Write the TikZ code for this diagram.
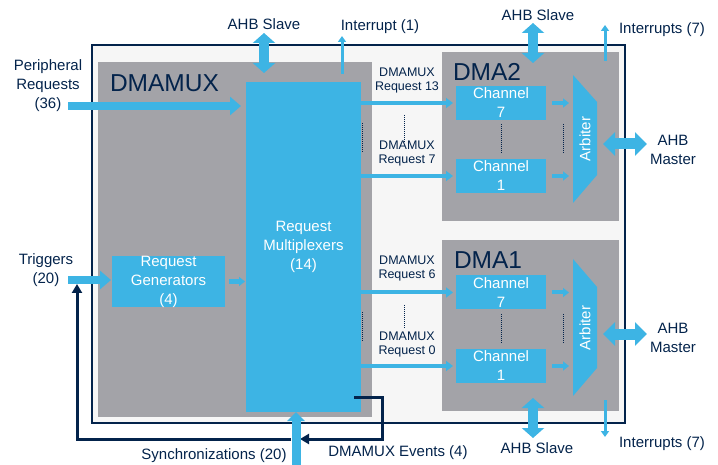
\documentclass[tikz,border=0pt]{standalone}
\usepackage{fontspec}
\setmainfont{Liberation Sans}
\usetikzlibrary{arrows.meta}
\definecolor{stblue}{RGB}{61,180,228}
\definecolor{stgray}{RGB}{163,163,168}
\definecolor{stnavy}{RGB}{3,35,75}
\definecolor{stlight}{RGB}{246,246,246}
\begin{document}
\begin{tikzpicture}[x=1pt,y=-1pt,
  every node/.style={inner sep=0pt, outer sep=0pt},
  lbl/.style={font=\fontsize{15}{19}\selectfont, text=stnavy, align=center},
  wlbl/.style={font=\fontsize{15}{19}\selectfont, text=white, align=center},
  reqlbl/.style={font=\fontsize{12.5}{14}\selectfont, text=stnavy, align=center},
  title/.style={font=\fontsize{24.5}{28}\selectfont, text=stnavy, anchor=west},
  graybox/.style={fill=stgray},
  chanbox/.style={fill=stblue, minimum width=90pt, minimum height=34pt, wlbl},
  bigarrow/.style={draw=stblue, line width=8pt, -{Triangle[length=11pt,width=18pt]}},
  syncarrow/.style={draw=stblue, line width=9pt, -{Triangle[length=9pt,width=17pt]}},
  dblarrow/.style={draw=stblue, line width=10pt, {Triangle[length=10pt,width=22pt]}-{Triangle[length=10pt,width=22pt]}},
  hdblarrow/.style={draw=stblue, line width=11pt, {Triangle[length=12pt,width=23pt]}-{Triangle[length=12pt,width=23pt]}},
  thinarrow/.style={draw=stblue, line width=3pt, -{Triangle[length=6pt,width=8pt]}},
  medarrow/.style={draw=stblue, line width=4pt, -{Triangle[length=7pt,width=10pt]}},
  smallarrow/.style={draw=stblue, line width=4pt, -{Triangle[length=6pt,width=9pt]}},
  navyarrow/.style={draw=stnavy, line width=3pt, -{Triangle[length=9pt,width=10pt]}},
  navydot/.style={draw=stnavy, line width=0.9pt, dash pattern=on 1pt off 1pt},
]
\useasboundingbox (0,0) rectangle (718,465);

% frames
\node[draw=stnavy, line width=1.3pt, fill=stlight, minimum width=533pt, minimum height=378pt] (frame) at (358.5,234) {};
\node[graybox, minimum width=274pt, minimum height=355pt] (muxbox) at (235,239.5) {};
\node[graybox, minimum width=177pt, minimum height=169pt] (dma2) at (530.5,136.5) {};
\node[graybox, minimum width=177pt, minimum height=171pt] (dma1) at (530.5,325.5) {};

% titles
\node[title] (tmux) at (110,83) {DMAMUX};
\node[title] (tdma2) at (453,72) {DMA2};
\node[title] (tdma1) at (454,260) {DMA1};

% blue blocks
\node[fill=stblue, minimum width=115pt, minimum height=330pt, wlbl] (mux) at (303.5,247) {Request\\Multiplexers\\(14)};
\node[fill=stblue, minimum width=113pt, minimum height=51pt, wlbl] (rg) at (168.5,281.5) {Request\\Generators\\(4)};
\node[chanbox] (c27) at (501,103) {Channel\\7};
\node[chanbox] (c21) at (501,176) {Channel\\1};
\node[chanbox] (c17) at (501,292.5) {Channel\\7};
\node[chanbox] (c11) at (501,366) {Channel\\1};

% arbiters
\fill[stblue] (573,75) -- (597,102) -- (597,175) -- (573,203) -- cycle;
\node[wlbl, rotate=90] (arb2) at (585,139) {Arbiter};
\fill[stblue] (573,259) -- (597,287) -- (597,368) -- (573,396) -- cycle;
\node[wlbl, rotate=90] (arb1) at (585,328) {Arbiter};

% request labels
\node[reqlbl] (r13) at (407,80) {DMAMUX\\Request 13};
\node[reqlbl] (r7) at (407,153.5) {DMAMUX\\Request 7};
\node[reqlbl] (r6) at (407,268.5) {DMAMUX\\Request 6};
\node[reqlbl] (r0) at (407,344) {DMAMUX\\Request 0};

% outside labels
\node[lbl] (ahbs1) at (264,24) {AHB Slave};
\node[lbl] (int1) at (380,27) {Interrupt (1)};
\node[lbl] (ahbs2) at (538,15) {AHB Slave};
\node[lbl] (int2) at (662,30) {Interrupts (7)};
\node[lbl] (prq) at (48,86) {Peripheral\\Requests\\(36)};
\node[lbl] (trg) at (46,270) {Triggers\\(20)};
\node[lbl] (am2) at (673,150) {AHB\\Master};
\node[lbl] (am1) at (673,338) {AHB\\Master};
\node[lbl] (ahbs3) at (537,448) {AHB Slave};
\node[lbl] (int3) at (662,444) {Interrupts (7)};
\node[lbl] (syn) at (214,456) {Synchronizations (20)};
\node[lbl] (evt) at (398,453) {DMAMUX Events (4)};

% connector end points
\coordinate (prs) at (68,106);
\coordinate (pre) at (241,106);
\coordinate (trs) at (68,280);
\coordinate (a1t) at (264,33);
\coordinate (a1b) at (264,73);
\coordinate (i1s) at (342,74);
\coordinate (i1e) at (342,36);
\coordinate (a2t) at (533,23);
\coordinate (a2b) at (533,63);
\coordinate (i2s) at (605,61);
\coordinate (i2e) at (605,25);
\coordinate (m2l) at (603,144);
\coordinate (m2r) at (647,144);
\coordinate (m1l) at (603,334);
\coordinate (m1r) at (647,334);
\coordinate (a3t) at (533,398);
\coordinate (a3b) at (533,438);
\coordinate (i3s) at (605,400);
\coordinate (i3e) at (605,437);
\coordinate (sys) at (296,465);
\coordinate (ev0) at (354,397);
\coordinate (eve) at (300,439);
\coordinate (fb0) at (291,439);
\coordinate (fbe) at (77,284);

% arrows
\draw[bigarrow] (prs) -- (pre);
\draw[bigarrow] (trs) -- ([xshift=-1pt]rg.west |- trs);
\draw[smallarrow, line width=5pt] ([xshift=4pt]rg.east) -- ([xshift=-1pt]mux.west |- rg.east);
\draw[dblarrow] (a1t) -- (a1b);
\draw[thinarrow] (i1s) -- (i1e);
\draw[dblarrow] (a2t) -- (a2b);
\draw[thinarrow] (i2s) -- (i2e);
\draw[hdblarrow] (m2l) -- (m2r);
\draw[hdblarrow] (m1l) -- (m1r);
\draw[dblarrow] (a3t) -- (a3b);
\draw[thinarrow] (i3s) -- (i3e);

\foreach \c in {c27,c21,c17,c11}{
  \draw[medarrow] (mux.east |- \c) -- ([xshift=-3pt]\c.west);
  \draw[smallarrow] ([xshift=6pt]\c.east) -- ([xshift=23pt]\c.east);
}

% events feedback
\draw[navyarrow] (ev0) -- ++(28,0) |- (eve);
\draw[navyarrow] (fb0) -| (fbe);
\draw[syncarrow] (sys) -- (sys |- mux.south);

% dotted lines
\draw[navydot] (404,115) -- (404,142);
\draw[navydot] (404,305) -- (404,328);
\draw[navydot] (501,124) -- (501,153);
\draw[navydot] (501,314) -- (501,343);
\draw[navydot] (563,124) -- (563,153);
\draw[navydot] (563,314) -- (563,343);
\draw[navydot] (362.5,123) -- (362.5,153);
\draw[navydot] (362.5,312) -- (362.5,342);
\end{tikzpicture}
\end{document}
